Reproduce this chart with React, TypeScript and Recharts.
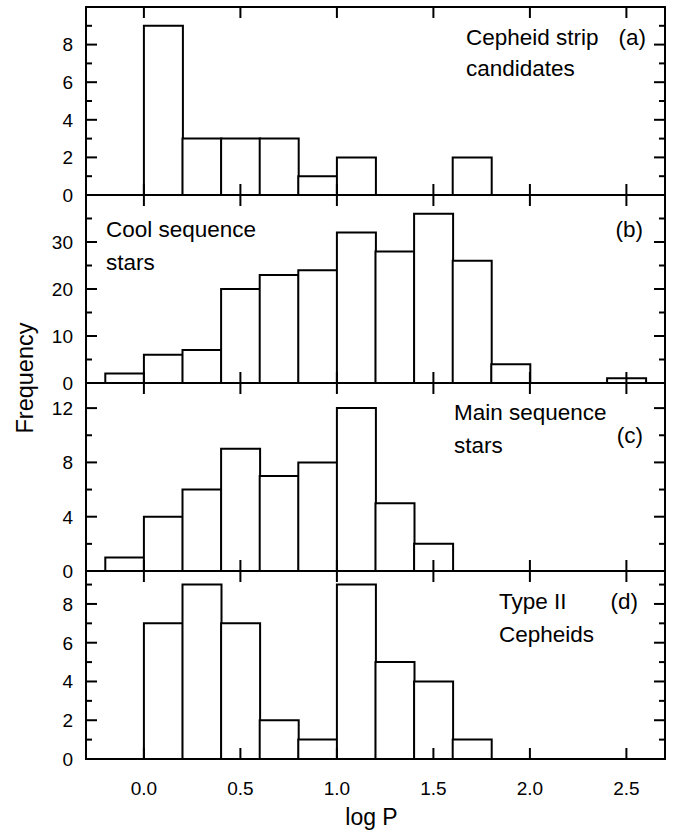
import React from 'react';
import { BarChart, Bar, XAxis, YAxis, ReferenceArea } from 'recharts';

// log P bins are 0.2 wide; values are counts per bin (bin centres below)
const binCenters = [-0.1, 0.1, 0.3, 0.5, 0.7, 0.9, 1.1, 1.3, 1.5, 1.7, 1.9, 2.1, 2.3, 2.5];
const cepheidStrip = [0, 9, 3, 3, 3, 1, 2, 0, 0, 2, 0, 0, 0, 0];
const coolSequence = [2, 6, 7, 20, 23, 24, 32, 28, 36, 26, 4, 0, 0, 1];
const mainSequence = [1, 4, 6, 9, 7, 8, 12, 5, 2, 0, 0, 0, 0, 0];
const typeTwo = [0, 7, 9, 7, 2, 1, 9, 5, 4, 1, 0, 0, 0, 0];

const xTicks = [0, 0.5, 1, 1.5, 2, 2.5];
const xDomain: [number, number] = [-0.3, 2.7];

const yTicksA = [0, 1, 2, 3, 4, 5, 6, 7, 8, 9];
const yLabelsA = [0, 2, 4, 6, 8];
const yTicksB = [0, 5, 10, 15, 20, 25, 30, 35];
const yLabelsB = [0, 10, 20, 30];
const yTicksC = [0, 2, 4, 6, 8, 10, 12];
const yLabelsC = [0, 4, 8, 12];
const yTicksD = [0, 1, 2, 3, 4, 5, 6, 7, 8, 9];
const yLabelsD = [0, 2, 4, 6, 8];

const W = 678;
const H = 832;
const LEFT = 86;
const RIGHT = 13;
const TOP = 7;
const PANEL_H = 188;
const X_AXIS_H = 1;
const PLOT_W = W - LEFT - RIGHT;
const FONT = '"Liberation Sans", Arial, Helvetica, sans-serif';
const MAJOR = 11;
const MINOR = 6;

type Note = { text: string; dx: number; dy: number; end?: boolean };

interface Panel {
  counts: number[];
  yMax: number;
  yTicks: number[];
  yLabels: number[];
  notes: Note[];
}

const panels: Panel[] = [
  {
    counts: cepheidStrip,
    yMax: 10,
    yTicks: yTicksA,
    yLabels: yLabelsA,
    notes: [
      { text: 'Cepheid strip', dx: 380, dy: 38 },
      { text: 'candidates', dx: 380, dy: 69 },
      { text: '(a)', dx: 560, dy: 38, end: true },
    ],
  },
  {
    counts: coolSequence,
    yMax: 40,
    yTicks: yTicksB,
    yLabels: yLabelsB,
    notes: [
      { text: 'Cool sequence', dx: 20, dy: 42 },
      { text: 'stars', dx: 20, dy: 75 },
      { text: '(b)', dx: 557, dy: 42, end: true },
    ],
  },
  {
    counts: mainSequence,
    yMax: 13.85,
    yTicks: yTicksC,
    yLabels: yLabelsC,
    notes: [
      { text: 'Main sequence', dx: 368, dy: 37 },
      { text: 'stars', dx: 368, dy: 70 },
      { text: '(c)', dx: 557, dy: 60, end: true },
    ],
  },
  {
    counts: typeTwo,
    yMax: 9.7,
    yTicks: yTicksD,
    yLabels: yLabelsD,
    notes: [
      { text: 'Type II', dx: 413, dy: 38 },
      { text: 'Cepheids', dx: 413, dy: 71 },
      { text: '(d)', dx: 552, dy: 38, end: true },
    ],
  },
];

// ticks point inward on both the bottom and the top edge of each panel
const makeXTick = (showLabels: boolean) => (props: any) => {
  const { x, y, payload } = props;
  return (
    <g>
      <line x1={x} x2={x} y1={y} y2={y - MAJOR} stroke="#000" strokeWidth={2} />
      <line x1={x} x2={x} y1={y - PANEL_H} y2={y - PANEL_H + MAJOR} stroke="#000" strokeWidth={2} />
      {showLabels && (
        <text x={x} y={y + 36} textAnchor="middle" fontSize={19} fontFamily={FONT} fill="#000">
          {Number(payload.value).toFixed(1)}
        </text>
      )}
    </g>
  );
};

// left and right edge ticks, labels only on the major ones
const makeYTick = (labels: number[]) => (props: any) => {
  const { x, y, payload } = props;
  const major = labels.includes(payload.value);
  const len = major ? MAJOR : MINOR;
  return (
    <g>
      <line x1={x} x2={x + len} y1={y} y2={y} stroke="#000" strokeWidth={2} />
      <line x1={x + PLOT_W} x2={x + PLOT_W - len} y1={y} y2={y} stroke="#000" strokeWidth={2} />
      {major && (
        <text x={x - 13} y={y} dy="0.36em" textAnchor="end" fontSize={19} fontFamily={FONT} fill="#000">
          {payload.value}
        </text>
      )}
    </g>
  );
};

const makeNotes = (notes: Note[], last: boolean) => (props: any) => {
  const vb = props.viewBox;
  const midY = TOP + PANEL_H * 2 - 5;
  return (
    <g fontFamily={FONT} fill="#000">
      {notes.map((n) => (
        <text
          key={n.text + n.dx}
          x={vb.x + n.dx}
          y={vb.y + n.dy}
          fontSize={22.5}
          textAnchor={n.end ? 'end' : 'start'}
        >
          {n.text}
        </text>
      ))}
      {last && (
        <>
          <text x={vb.x + vb.width / 2 - 4} y={vb.y + vb.height + 66} fontSize={23} textAnchor="middle">
            log P
          </text>
          <text x={32.5} y={midY} fontSize={23.5} textAnchor="middle" transform={`rotate(-90, 32.5, ${midY})`}>
            Frequency
          </text>
        </>
      )}
    </g>
  );
};

function HistPanel({ panel, index }: { panel: Panel; index: number }) {
  const last = index === panels.length - 1;
  const top = TOP + PANEL_H * index;
  const data = binCenters.map((c, i) => ({ logP: c, n: panel.counts[i] }));
  return (
    <div style={{ position: 'absolute', left: 0, top: 0 }}>
      <BarChart
        width={W}
        height={H}
        data={data}
        margin={{ top, right: RIGHT, bottom: H - top - PANEL_H - X_AXIS_H, left: 0 }}
        barCategoryGap={0}
        barGap={0}
      >
        <XAxis
          dataKey="logP"
          type="number"
          domain={xDomain}
          allowDataOverflow
          ticks={xTicks}
          interval={0}
          height={X_AXIS_H}
          tickSize={0}
          tickMargin={0}
          tickLine={false}
          axisLine={false}
          tick={makeXTick(last)}
        />
        <YAxis
          type="number"
          domain={[0, panel.yMax]}
          allowDataOverflow
          ticks={panel.yTicks}
          interval={0}
          width={LEFT}
          tickSize={0}
          tickMargin={0}
          tickLine={false}
          axisLine={false}
          tick={makeYTick(panel.yLabels)}
        />
        <Bar dataKey="n" fill="#fff" stroke="#000" strokeWidth={2} isAnimationActive={false} />
        <ReferenceArea
          x1={xDomain[0]}
          x2={xDomain[1]}
          y1={0}
          y2={panel.yMax}
          fill="none"
          fillOpacity={0}
          stroke="#000"
          strokeWidth={2}
          ifOverflow="visible"
          label={makeNotes(panel.notes, last)}
        />
      </BarChart>
    </div>
  );
}

export default function App() {
  return (
    <div style={{ position: 'absolute', left: 0, top: 0, width: W, height: H, background: '#fff' }}>
      {panels.map((p, i) => (
        <HistPanel key={i} panel={p} index={i} />
      ))}
    </div>
  );
}
